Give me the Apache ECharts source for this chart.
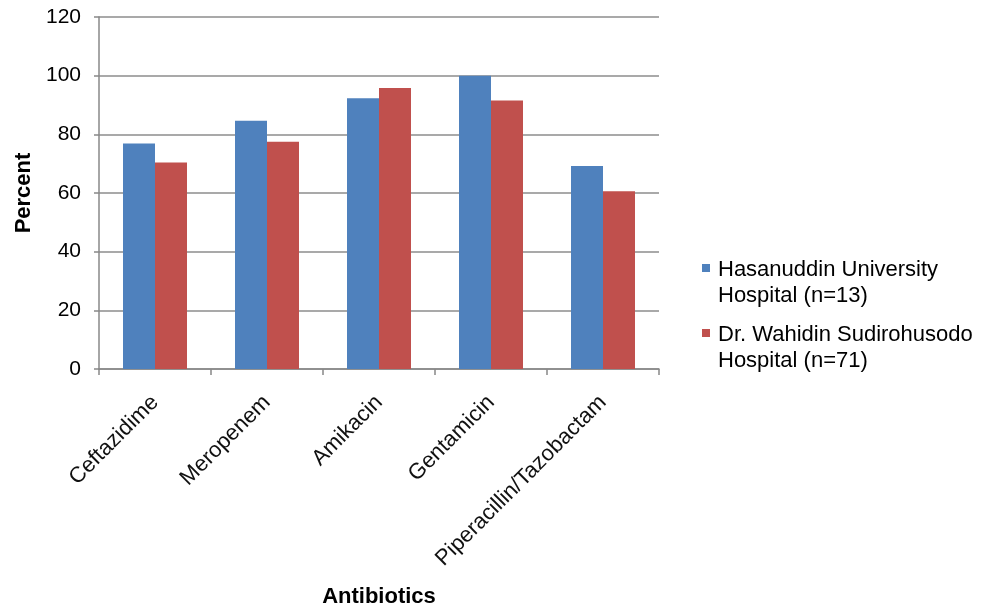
<!DOCTYPE html>
<html>
<head>
<meta charset="utf-8">
<script src="https://cdn.jsdelivr.net/npm/echarts@6/dist/echarts.min.js"></script>
<style>
html,body{margin:0;padding:0;background:#fff;}
#chart{width:986px;height:610px;}
</style>
</head>
<body>
<div id="chart"></div>
<script>
var categories = ['Ceftazidime', 'Meropenem', 'Amikacin', 'Gentamicin', 'Piperacillin/Tazobactam'];
var seriesNames = ['Hasanuddin University\nHospital (n=13)', 'Dr. Wahidin Sudirohusodo\nHospital (n=71)'];
var hasanuddin = [76.9, 84.6, 92.3, 100, 69.2];
var wahidin = [70.4, 77.5, 95.8, 91.5, 60.6];
var yTicks = [0, 20, 40, 60, 80, 100, 120];

var chart = echarts.init(document.getElementById('chart'));
var fontFam = 'Liberation Sans, Arial, sans-serif';
var iconPath = 'path://M0,0L8,0L8,8L0,8Z M0,38L8,38';
chart.setOption({
  animation: false,
  textStyle: { fontFamily: fontFam },
  grid: { left: 99, right: 327, top: 17, bottom: 241, containLabel: false, outerBoundsMode: 'none' },
  legend: {
    orient: 'vertical',
    left: 697,
    top: 252,
    itemWidth: 8,
    itemHeight: 38,
    itemGap: 13,
    icon: iconPath,
    itemStyle: { borderWidth: 0 },
    textStyle: { fontSize: 22, color: '#000', lineHeight: 26, fontFamily: fontFam, padding: [0, 0, 0, 3] },
    data: seriesNames
  },
  xAxis: {
    type: 'category',
    data: categories,
    name: 'Antibiotics',
    nameLocation: 'middle',
    nameGap: 217,
    nameTextStyle: { fontSize: 22, fontWeight: 'bold', color: '#000', fontFamily: fontFam },
    axisLine: { lineStyle: { color: '#888', width: 1.5 } },
    axisTick: { show: true, length: 6, lineStyle: { color: '#888', width: 1.5 }, alignWithLabel: false },
    axisLabel: { rotate: 45, fontSize: 22, color: '#111', margin: 30, interval: 0 }
  },
  yAxis: {
    type: 'value',
    min: yTicks[0],
    max: yTicks[yTicks.length - 1],
    interval: 20,
    name: 'Percent',
    nameLocation: 'middle',
    nameGap: 64,
    nameTextStyle: { fontSize: 22, fontWeight: 'bold', color: '#000', fontFamily: fontFam },
    axisLine: { show: true, lineStyle: { color: '#888', width: 1.5 } },
    axisTick: { show: true, length: 5, lineStyle: { color: '#888', width: 1.5 } },
    axisLabel: { fontSize: 21, color: '#000', margin: 18 },
    splitLine: { show: true, lineStyle: { color: '#8c8c8c', width: 1.5 } }
  },
  series: [
    {
      name: seriesNames[0], type: 'bar', data: hasanuddin,
      barWidth: 32, barGap: '0%',
      itemStyle: { color: '#4F81BD' }
    },
    {
      name: seriesNames[1], type: 'bar', data: wahidin,
      barWidth: 32, barGap: '0%',
      itemStyle: { color: '#C0504D' }
    }
  ]
});
</script>
</body>
</html>
